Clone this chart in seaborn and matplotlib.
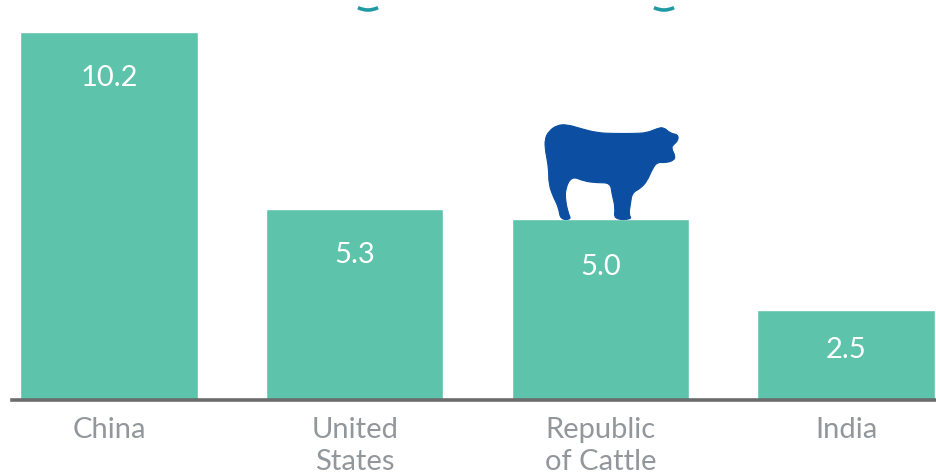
import matplotlib
matplotlib.use("Agg")
import matplotlib.pyplot as plt
from matplotlib.patches import PathPatch, Arc
from matplotlib.path import Path
from matplotlib.transforms import Affine2D
import pandas as pd
import seaborn as sns

countries = ["China", "United\nStates", "Republic\nof Cattle", "India"]
values = [10.2, 5.3, 5.0, 2.5]
value_labels = ["10.2", "5.3", "5.0", "2.5"]

BAR = "#5EC3AB"
COW = "#0B4EA2"
TEXT = "#92979C"
AXIS = "#6A6C6E"
RING = "#1F9AA3"

# Animal silhouette, in its own drawing units (y pointing down)
cow_x = [180, 175, 160, 145, 145, 135, 133, 145, 170, 200, 240, 290, 340, 400, 440, 470,
         490, 510, 533, 533, 520, 512, 525, 520, 495, 470, 455, 440, 420, 395, 390, 385,
         395, 340, 345, 335, 330, 290, 250, 215, 195, 195, 205, 212]
cow_y = [355, 320, 290, 250, 200, 150, 115, 90, 72, 70, 82, 95, 97, 97, 95, 82,
         78, 97, 100, 118, 130, 140, 165, 178, 185, 183, 205, 240, 262, 275, 310, 340,
         355, 355, 320, 280, 245, 245, 240, 225, 260, 300, 340, 355]


def smooth_outline(xs, ys):
    """Closed quadratic curve through the midpoints of the outline's edges."""
    pts = list(zip(xs, ys))
    n = len(pts)
    mid = lambda a, b: ((a[0] + b[0]) / 2, (a[1] + b[1]) / 2)
    verts = [mid(pts[-1], pts[0])]
    codes = [Path.MOVETO]
    for i in range(n):
        verts += [pts[i], mid(pts[i], pts[(i + 1) % n])]
        codes += [Path.CURVE3, Path.CURVE3]
    return Path(verts, codes)


sns.set_theme(style="white")
plt.rcParams["font.family"] = ["Lato", "DejaVu Sans"]

fig = plt.figure(figsize=(9.36, 4.75), dpi=100)
ax = fig.add_axes([12 / 936, 1 - 400 / 475, 924 / 936, 400 / 475])

df = pd.DataFrame({"country": countries, "value": values})
sns.barplot(data=df, x="country", y="value", color=BAR, saturation=1, width=0.722, ax=ax)

ax.set_xlim(-0.395, 3.366)
ax.set_ylim(0, 11.08)
ax.set_xlabel("")
ax.set_ylabel("")
ax.set_yticks([])
ax.tick_params(axis="x", length=0, pad=12, labelsize=21, labelcolor=TEXT)
for label in ax.get_xticklabels():
    label.set_linespacing(1.28)
for side in ("top", "left", "right"):
    ax.spines[side].set_visible(False)
ax.spines["bottom"].set_color(AXIS)
ax.spines["bottom"].set_linewidth(2.6)

# Value labels sit inside each bar, a little closer to the top on the short bar
label_drop = [-46, -46, -48, -40]
for i, (v, text, drop) in enumerate(zip(values, value_labels, label_drop)):
    ax.annotate(text, (i, v), xytext=(0, drop * 0.72), textcoords="offset points",
                ha="center", va="center", color="white", fontsize=21)

# Silhouette standing on the third bar
base_x, base_y = ax.transData.transform((2, values[2]))
cow_tf = Affine2D().translate(-300, -355).scale(1 / 3, -1 / 3).translate(base_x, base_y)
fig.add_artist(PathPatch(smooth_outline(cow_x, cow_y), facecolor=COW, edgecolor=COW,
                         linewidth=0.8, joinstyle="round", transform=cow_tf))

# Lower edges of two rings cropped by the top of the figure
ring_tf = Affine2D().scale(1, -1).translate(0, 475)
for cx in (368, 664):
    fig.add_artist(Arc((cx, -12), 44, 44, theta1=63, theta2=117, color=RING, linewidth=2.6,
                       transform=ring_tf))

fig.savefig("out.png", dpi=100)
